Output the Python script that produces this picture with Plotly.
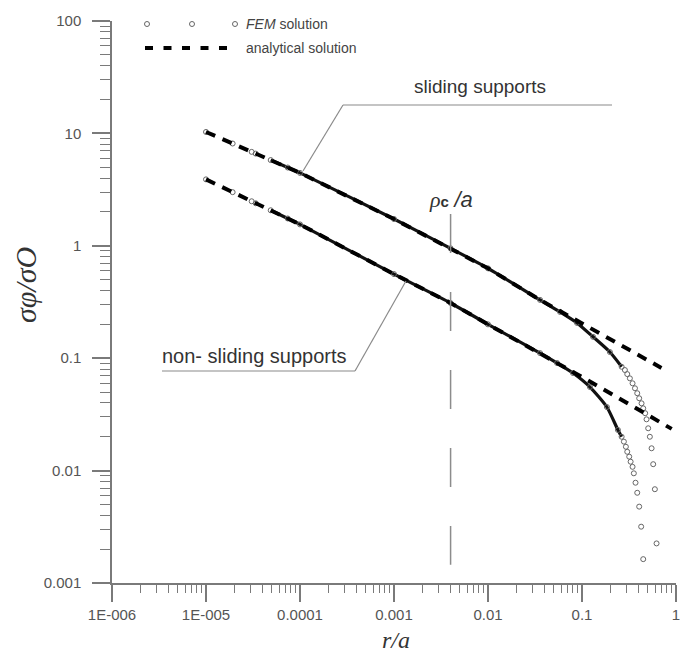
import plotly.graph_objects as go

# ---- data: r/a and normalised hoop stress sigma_phi / sigma_0 ----
# analytical solution
r_sliding_an = [1e-5, 1e-4, 1e-3, 4e-3, 1e-2, 0.0358, 0.1, 0.7]
s_sliding_an = [10.3, 4.45, 1.73, 0.95, 0.63, 0.33, 0.204, 0.082]
r_nonsliding_an = [1e-5, 1e-4, 1e-3, 4e-3, 1e-2, 0.0358, 0.1, 0.9]
s_nonsliding_an = [3.9, 1.55, 0.56, 0.31, 0.20, 0.111, 0.068, 0.0235]

# FEM solution (nodal values)
r_sliding_fem = [1e-5, 1.92e-5, 3.06e-5, 3.38e-5, 4.88e-5, 7.4e-5, 1e-4, 1e-3, 4e-3,
                 1e-2, 0.0358, 0.0584, 0.0885, 0.131, 0.198, 0.264, 0.286, 0.303,
                 0.323, 0.345, 0.366, 0.387, 0.406, 0.430, 0.448, 0.470, 0.486,
                 0.506, 0.527, 0.550, 0.572, 0.596, 0.621]
s_sliding_fem = [10.3, 8.13, 6.85, 6.61, 5.79, 4.97, 4.45, 1.73, 0.95,
                 0.63, 0.33, 0.258, 0.206, 0.155, 0.1135, 0.0839, 0.0785, 0.0722,
                 0.0662, 0.0598, 0.0540, 0.0488, 0.0440, 0.0397, 0.0358, 0.0324, 0.0286,
                 0.0238, 0.0200, 0.0158, 0.0114, 0.00683, 0.00225]
r_nonsliding_fem = [1e-5, 1.92e-5, 3.06e-5, 3.38e-5, 4.88e-5, 7.4e-5, 1e-4, 1e-3, 4e-3,
                    1e-2, 0.0358, 0.0543, 0.0802, 0.1216, 0.184, 0.241, 0.264, 0.279,
                    0.293, 0.303, 0.318, 0.329, 0.345, 0.356, 0.371, 0.387, 0.406,
                    0.426, 0.448]
s_nonsliding_fem = [3.9, 3.00, 2.49, 2.39, 2.07, 1.75, 1.55, 0.56, 0.31,
                    0.20, 0.111, 0.0906, 0.0738, 0.0554, 0.0368, 0.0230, 0.0200, 0.0181,
                    0.0163, 0.0147, 0.0133, 0.0120, 0.0108, 0.00946, 0.00780, 0.00635, 0.00478,
                    0.00317, 0.00163]

# critical radius rho_c / a and the extent of its marker line
rho_c = 0.004
rho_line_y = [1.92, 0.00145]

# axis ticks
x_tick_vals = [1e-6, 1e-5, 1e-4, 1e-3, 1e-2, 1e-1, 1]
x_tick_text = ["1E-006", "1E-005", "0.0001", "0.001", "0.01", "0.1", "1"]
y_tick_vals = [1e-3, 1e-2, 1e-1, 1, 10, 100]
y_tick_text = ["0.001", "0.01", "0.1", "1", "10", "100"]
x_minor = [m * 10.0 ** e for e in range(-6, 0) for m in range(2, 10)]
y_minor = [m * 10.0 ** e for e in range(-3, 2) for m in range(2, 10)]

# ---- layout geometry ----
W, H = 691, 655
ML, MR, MT, MB = 112, 15, 21, 72
PW, PH = W - ML - MR, H - MT - MB


def px(xp):
    return (xp - ML) / PW


def py(yp):
    return (H - MB - yp) / PH


AXIS = "#7a7a7a"
SANS = "Liberation Sans, Arial, sans-serif"
SERIF = "Liberation Serif, Times New Roman, serif"

fig = go.Figure()

# smooth body of the FEM curves (nodes overlap into a solid line)
for r, s in [(r_sliding_fem, s_sliding_fem), (r_nonsliding_fem, s_nonsliding_fem)]:
    idx = [i for i, v in enumerate(r) if 4.8e-5 <= v <= 0.265]
    fig.add_trace(go.Scatter(
        x=[r[i] for i in idx], y=[s[i] for i in idx], mode="lines",
        line=dict(color="#111111", width=3.2, shape="spline", smoothing=0.6),
        hoverinfo="skip"))

# FEM nodes
for r, s in [(r_sliding_fem, s_sliding_fem), (r_nonsliding_fem, s_nonsliding_fem)]:
    fig.add_trace(go.Scatter(
        x=r, y=s, mode="markers", name="FEM solution",
        marker=dict(symbol="circle-open", size=5, color="#666666",
                    line=dict(width=1, color="#666666"))))

# analytical solution
for r, s in [(r_sliding_an, s_sliding_an), (r_nonsliding_an, s_nonsliding_an)]:
    fig.add_trace(go.Scatter(
        x=r, y=s, mode="lines", name="analytical solution",
        line=dict(color="black", width=4, dash="10px,8px")))

# rho_c / a marker line
fig.add_trace(go.Scatter(
    x=[rho_c, rho_c], y=rho_line_y, mode="lines",
    line=dict(color="#8c8c8c", width=1.5, dash="39px,39px"), hoverinfo="skip"))

shapes = []
annotations = []

# legend drawn by hand: three node symbols and a dashed sample
for cx in (147, 192, 235):
    shapes.append(dict(type="circle", xref="paper", yref="paper",
                       x0=px(cx - 2.5), x1=px(cx + 2.5), y0=py(24 + 2.5), y1=py(24 - 2.5),
                       line=dict(color="#666666", width=1)))
shapes.append(dict(type="line", xref="paper", yref="paper",
                   x0=px(145), x1=px(231), y0=py(48), y1=py(48),
                   line=dict(color="black", width=4, dash="8px,10.5px")))
annotations.append(dict(xref="paper", yref="paper", x=px(244), y=py(24),
                        xanchor="left", yanchor="middle", showarrow=False,
                        text="<i>FEM</i> solution",
                        font=dict(family=SANS, size=14, color="#444444")))
annotations.append(dict(xref="paper", yref="paper", x=px(244), y=py(48),
                        xanchor="left", yanchor="middle", showarrow=False,
                        text="analytical solution",
                        font=dict(family=SANS, size=14, color="#444444")))

# callouts
LEAD = dict(color="#8a8a8a", width=1.2)
shapes.append(dict(type="line", xref="paper", yref="paper",
                   x0=px(303), y0=py(171), x1=px(343), y1=py(105), line=LEAD))
shapes.append(dict(type="line", xref="paper", yref="paper",
                   x0=px(343), y0=py(105), x1=px(612), y1=py(105), line=LEAD))
annotations.append(dict(xref="paper", yref="paper", x=px(480), y=py(86),
                        xanchor="center", yanchor="middle", showarrow=False,
                        text="sliding supports",
                        font=dict(family=SANS, size=19, color="#333333")))
shapes.append(dict(type="line", xref="paper", yref="paper",
                   x0=px(162), y0=py(371), x1=px(355), y1=py(371), line=LEAD))
shapes.append(dict(type="line", xref="paper", yref="paper",
                   x0=px(355), y0=py(371), x1=px(406), y1=py(281), line=LEAD))
annotations.append(dict(xref="paper", yref="paper", x=px(254), y=py(356),
                        xanchor="center", yanchor="middle", showarrow=False,
                        text="non- sliding supports",
                        font=dict(family=SANS, size=20, color="#333333")))

# rho_c / a label
annotations.append(dict(xref="paper", yref="paper", x=px(451), y=py(199),
                        xanchor="center", yanchor="middle", showarrow=False,
                        text=("<i>ρ</i><span style='font-family:Liberation Sans;"
                              "font-weight:bold;font-size:15px'>c</span> "
                              "<span style='font-family:Liberation Sans'><i>/a</i></span>"),
                        font=dict(family=SERIF, size=22, color="#333333")))

# axis titles
annotations.append(dict(xref="paper", yref="paper", x=px(396), y=py(640),
                        xanchor="center", yanchor="middle", showarrow=False,
                        text="<i>r/a</i>",
                        font=dict(family=SERIF, size=24, color="#333333")))
annotations.append(dict(xref="paper", yref="paper", x=px(25), y=py(285),
                        xanchor="center", yanchor="middle", showarrow=False,
                        textangle=-90, text="<i>σφ/σO</i>",
                        font=dict(family=SERIF, size=30, color="#333333")))

fig.update_layout(
    width=W, height=H,
    margin=dict(l=ML, r=MR, t=MT, b=MB),
    plot_bgcolor="white", paper_bgcolor="white",
    showlegend=False,
    shapes=shapes, annotations=annotations,
    xaxis=dict(
        type="log", range=[-6, 0], showgrid=False, zeroline=False,
        showline=True, linecolor=AXIS, linewidth=1.5,
        ticks="outside", ticklen=17, tickwidth=1.5, tickcolor=AXIS,
        tickmode="array", tickvals=x_tick_vals, ticktext=x_tick_text,
        tickfont=dict(family=SANS, size=15, color="#555555"),
        minor=dict(tickmode="array", tickvals=x_minor, ticks="outside",
                   ticklen=8, tickwidth=1, tickcolor=AXIS, showgrid=False),
    ),
    yaxis=dict(
        type="log", range=[-3, 2], showgrid=False, zeroline=False,
        showline=True, linecolor=AXIS, linewidth=1.5,
        ticks="outside", ticklen=18, tickwidth=1.5, tickcolor=AXIS,
        tickmode="array", tickvals=y_tick_vals, ticktext=y_tick_text,
        tickfont=dict(family=SANS, size=15, color="#555555"),
        ticklabelstandoff=8,
        minor=dict(tickmode="array", tickvals=y_minor, ticks="outside",
                   ticklen=10, tickwidth=1, tickcolor=AXIS, showgrid=False),
    ),
)

fig.write_html("out.html")
